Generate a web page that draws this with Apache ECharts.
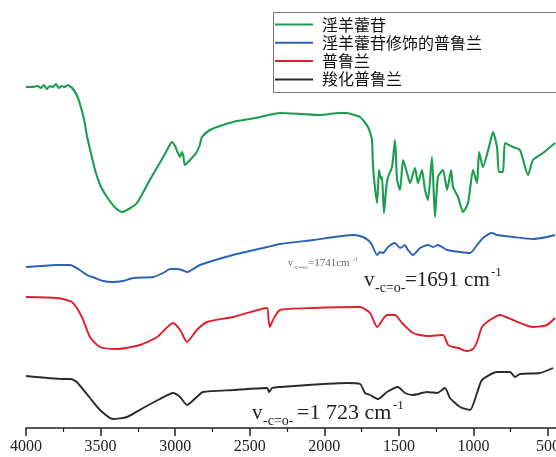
<!DOCTYPE html>
<html>
<head>
<meta charset="utf-8">
<script src="https://cdn.jsdelivr.net/npm/echarts@6/dist/echarts.min.js"></script>
<style>html,body{margin:0;padding:0;background:#fff}#c{width:556px;height:457px}</style>
</head>
<body>
<div id="c"></div>
<script>
// Wavenumber (cm^-1) and relative transmittance (arbitrary offset units)
var names = ['淫羊藿苷', '淫羊藿苷修饰的普鲁兰', '普鲁兰', '羧化普鲁兰'];
var colors = ['#1a9e4e', '#2a62b6', '#e01f2d', '#2b2b2b'];
var xTicks = [4000, 3500, 3000, 2500, 2000, 1500, 1000, 500];

var icariin = [
 [4000,341],[3960,341],[3920,342],[3900,340],[3880,343],[3860,339],[3840,342],[3820,341],[3800,344],[3780,340],
 [3760,342],[3740,341],[3720,343],[3700,341],[3690,340],[3660,333],[3640,325],[3610,308],[3590,291],[3560,272],
 [3537,258],[3500,242],[3457,231],[3400,220],[3357,216],[3300,220],[3256,225],[3170,248],[3080,271],[3040,282],
 [3022,286],[3000,282],[2990,278],[2967,271],[2955,276],[2945,272],[2935,263],[2900,268],[2855,276],[2835,283],
 [2820,291],[2767,298],[2700,302],[2612,306],[2500,309],[2430,311],[2297,315],[2150,314],[2029,313],[1900,315],
 [1848,315],[1800,313],[1760,311],[1730,306],[1707,301],[1690,294],[1680,288],[1673,261],[1660,240],[1646,225],
 [1633,258],[1620,249],[1613,251],[1600,215],[1585,240],[1573,251],[1546,261],[1526,288],[1512,248],[1492,238],
 [1472,268],[1445,255],[1425,245],[1392,260],[1372,245],[1345,258],[1325,238],[1305,228],[1278,271],[1258,211],
 [1238,251],[1204,258],[1177,238],[1150,258],[1137,241],[1103,231],[1070,216],[1036,225],[1003,258],[976,245],
 [962,276],[936,261],[896,281],[869,296],[842,281],[829,256],[802,256],[788,285],[735,281],[688,278],
 [634,253],[601,268],[534,275],[453,285]
];
var modPullulan = [
 [4000,161],[3900,162],[3800,163],[3705,163],[3640,158],[3590,153],[3537,150],[3480,147],[3425,146],[3350,147],
 [3282,150],[3148,151],[3080,155],[3034,159],[2990,159],[2954,158],[2920,156],[2833,163],[2612,173],[2384,181],
 [2297,184],[2076,188],[1807,193],[1740,191],[1700,187],[1680,183],[1646,173],[1626,176],[1606,175],[1573,181],
 [1526,185],[1492,180],[1460,183],[1439,178],[1405,173],[1358,180],[1305,183],[1271,181],[1238,183],[1177,178],
 [1090,176],[1023,175],[976,183],[936,190],[876,195],[842,193],[735,191],[601,189],[507,191],[453,193]
];
var pullulan = [
 [4000,131],[3792,130],[3692,126],[3625,111],[3571,91],[3504,81],[3390,79],[3236,83],[3121,91],[3014,105],
 [2967,98],[2920,86],[2855,98],[2786,106],[2612,111],[2384,120],[2375,110],[2365,101],[2344,108],[2297,118],
 [2076,120],[1760,121],[1693,115],[1646,101],[1580,113],[1526,113],[1479,105],[1405,95],[1311,92],[1204,93],
 [1170,83],[1137,81],[1103,80],[1043,77],[1003,79],[976,86],[943,101],[889,108],[822,113],[735,108],
 [601,101],[507,103],[453,110]
];
var carboxyPullulan = [
 [4000,52],[3750,49],[3700,49],[3660,46],[3571,30],[3504,18],[3417,9],[3323,11],[3215,20],[3101,29],
 [3014,35],[2967,31],[2920,23],[2855,31],[2813,36],[2612,38],[2384,40],[2370,36],[2350,40],[2297,41],
 [1848,45],[1760,44],[1727,35],[1693,33],[1640,29],[1580,36],[1506,41],[1459,35],[1405,33],[1311,36],
 [1244,35],[1191,40],[1157,30],[1090,21],[1023,18],[976,35],[943,48],[842,56],[755,56],[721,51],
 [688,54],[554,55],[466,60]
];
var seriesData = [icariin, modPullulan, pullulan, carboxyPullulan];

var chart = echarts.init(document.getElementById('c'), null, {renderer: 'canvas'});
var serif = '"Liberation Serif","DejaVu Serif",serif';
var cjk = '"Noto Sans CJK SC","Noto Sans",sans-serif';

function txt(x, y, s, size, color) {
  return {type: 'text', x: x, y: y, style: {text: s, font: size + 'px ' + serif, fill: color || '#222', textVerticalAlign: 'middle'}, z: 10};
}

var option = {
  animation: false,
  backgroundColor: '#fff',
  grid: {left: 26, width: 596.6, top: 0, height: 428, containLabel: false, outerBoundsMode: 'none'},
  xAxis: {
    type: 'value', min: 0, max: 4000, interval: 500, inverse: true,
    axisLine: {show: true, lineStyle: {color: '#222', width: 1.5}},
    axisTick: {show: true, inside: false, length: 8, lineStyle: {color: '#222', width: 1.5}},
    minorTick: {show: true, splitNumber: 2, length: 4, lineStyle: {color: '#222', width: 1.2}},
    splitLine: {show: false},
    axisLabel: {
      margin: 11, fontFamily: serif, fontSize: 16, color: '#222', hideOverlap: false,
      formatter: function (v) { return xTicks.indexOf(v) >= 0 ? String(v) : ''; }
    }
  },
  yAxis: {type: 'value', min: 0, max: 428, show: false},
  legend: {
    orient: 'vertical', left: 275, top: 16, padding: 0,
    icon: 'rect', itemWidth: 38, itemHeight: 2, itemGap: 1.3,
    textStyle: {fontFamily: cjk, fontSize: 16, color: '#111', lineHeight: 17, padding: [0, 0, 0, 4]},
    data: names
  },
  series: seriesData.map(function (d, i) {
    return {
      name: names[i], type: 'line', data: d, symbol: 'none', smooth: 0.2,
      lineStyle: {color: colors[i], width: i === 0 ? 2.1 : 1.9},
      itemStyle: {color: colors[i]}
    };
  }),
  graphic: [
    {type: 'rect', shape: {x: 273.5, y: 12.5, width: 300, height: 80}, style: {fill: 'none', stroke: '#777', lineWidth: 1}, z: 5},
    // small annotation
    txt(288, 263, 'v', 10, '#666'),
    txt(293, 267, '-c=o-', 7, '#666'),
    txt(308, 263, '=1741cm', 11, '#666'),
    txt(353, 259, '-1', 6, '#666'),
    // 1691 annotation
    txt(364, 280, 'v', 21),
    txt(375, 288, '-c=o-', 14),
    txt(405, 280, '=1691 cm', 21),
    txt(491, 273, '-1', 13),
    // 1723 annotation
    txt(252, 413, 'v', 21),
    txt(263, 421, '-c=o-', 14),
    txt(297, 413, '=1 723 cm', 22),
    txt(393, 406, '-1', 13)
  ]
};
chart.setOption(option);
</script>
</body>
</html>
